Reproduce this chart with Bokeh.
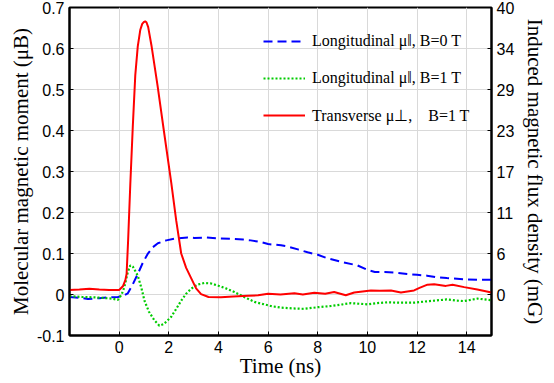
from bokeh.plotting import figure
from bokeh.models import (Range1d, LinearAxis, FixedTicker, Legend, LegendItem)
from bokeh.embed import file_html
from bokeh.resources import INLINE

# ---------------- data ----------------
red_t = [-2, -1.6, -1.2, -0.8, -0.4, 0, 0.15, 0.25, 0.3, 0.36, 0.45, 0.55, 0.65,
         0.75, 0.85, 0.93, 1.0, 1.05, 1.1, 1.17, 1.3, 1.55, 1.8, 2.1, 2.3, 2.5,
         2.7, 2.9, 3.1, 3.3, 3.6, 4.1, 4.6, 5.2, 5.6, 6.0, 6.5, 7.06, 7.4, 7.86,
         8.3, 8.66, 9.13, 9.47, 10.14, 10.5, 10.95, 11.35, 11.88, 12.1, 12.42,
         12.69, 13.16, 13.43, 13.9, 14.43, 15.0]
red_v = [0.011, 0.012, 0.014, 0.012, 0.011, 0.011, 0.02, 0.035, 0.05, 0.13, 0.27,
         0.41, 0.535, 0.605, 0.645, 0.66, 0.665, 0.666, 0.664, 0.652, 0.608,
         0.508, 0.40, 0.272, 0.18, 0.10, 0.065, 0.04, 0.015, 0.001, -0.006,
         -0.007, -0.005, -0.003, -0.002, 0.002, 0.0, 0.003, 0.0, 0.004, 0.002,
         0.006, -0.002, 0.005, 0.01, 0.009, 0.01, 0.005, 0.01, 0.016, 0.024,
         0.025, 0.021, 0.024, 0.018, 0.012, 0.005]

blue_t = [-2, -1.6, -1.26, -0.8, -0.4, -0.05, 0.2, 0.35, 0.55, 0.75, 0.95, 1.15,
          1.35, 1.56, 1.9, 2.23, 2.76, 3.03, 3.5, 3.97, 4.5, 5.0, 5.3, 5.71, 6.0,
          6.52, 6.79, 7.2, 7.59, 8.0, 8.4, 9.0, 9.6, 10.0, 10.3, 10.7, 11.2, 11.6,
          12.0, 12.4, 12.8, 13.2, 13.9, 14.5, 15.0]
blue_v = [-0.006, -0.008, -0.011, -0.009, -0.007, -0.006, -0.002, 0.003, 0.025,
          0.05, 0.077, 0.099, 0.115, 0.125, 0.132, 0.136, 0.139, 0.138, 0.139,
          0.137, 0.136, 0.134, 0.132, 0.128, 0.123, 0.12, 0.117, 0.11, 0.103,
          0.097, 0.088, 0.079, 0.071, 0.06, 0.055, 0.055, 0.053, 0.05, 0.048,
          0.046, 0.042, 0.04, 0.037, 0.036, 0.036]

green_t = [-2, -1.5, -1.0, -0.72, -0.3, -0.05, 0.1, 0.21, 0.35, 0.45, 0.55, 0.75,
           0.9, 1.02, 1.2, 1.42, 1.62, 1.8, 2.09, 2.3, 2.5, 2.7, 2.9, 3.15, 3.43,
           3.7, 3.97, 4.3, 4.64, 5.0, 5.45, 5.71, 6.1, 6.52, 7.0, 7.46, 8.0, 8.54,
           9.0, 9.34, 10.0, 10.4, 10.81, 11.3, 11.88, 12.5, 13.2, 13.6, 13.9,
           14.43, 15.0]
green_v = [-0.004, -0.006, -0.007, -0.008, -0.01, -0.013, 0.0, 0.018, 0.055, 0.071,
           0.068, 0.046, 0.015, -0.015, -0.042, -0.063, -0.076, -0.072, -0.055,
           -0.035, -0.015, 0.002, 0.014, 0.024, 0.028, 0.027, 0.022, 0.015, 0.006,
           -0.005, -0.018, -0.022, -0.028, -0.032, -0.034, -0.035, -0.031, -0.028,
           -0.024, -0.021, -0.024, -0.021, -0.019, -0.02, -0.02, -0.016, -0.012,
           -0.015, -0.016, -0.01, -0.014]

x_ticks = [0, 2, 4, 6, 8, 10, 12, 14]
y_ticks = [-0.1, 0, 0.1, 0.2, 0.3, 0.4, 0.5, 0.6, 0.7]
y_tick_labels = ["-0.1", "0", "0.1", "0.2", "0.3", "0.4", "0.5", "0.6", "0.7"]
r_max = 40.0
r_ticks = [k * r_max / 7 for k in range(8)]
r_tick_labels = ["0", "6", "11", "17", "23", "29", "34", "40"]

labels = ["Longitudinal \u03bc\u2016, B=0 T",
          "Longitudinal \u03bc\u2016, B=1 T",
          "Transverse \u03bc\u22a5,\u00a0\u00a0\u00a0\u00a0B=1 T"]

# ---------------- figure ----------------
SANS = "'Liberation Sans', Arial, sans-serif"
SERIF = "'Liberation Serif', 'Times New Roman', serif"

p = figure(width=554, height=383, x_range=Range1d(-2, 15), y_range=Range1d(-0.1, 0.7),
           output_backend="svg", toolbar_location=None,
           min_border_left=69, min_border_right=63, min_border_top=7,
           min_border_bottom=48)
p.background_fill_color = "white"
p.border_fill_color = "white"
p.outline_line_color = "black"
p.outline_line_width = 2

p.extra_y_ranges = {"mg": Range1d(-0.1 * r_max / 0.7, r_max)}

def style_axis(ax):
    ax.axis_line_color = "black"
    ax.axis_line_width = 2
    ax.major_tick_in = 4
    ax.major_tick_out = 0
    ax.minor_tick_line_color = None
    ax.major_tick_line_color = "black"
    ax.major_label_text_font = SANS
    ax.major_label_text_font_size = "16px"
    ax.major_label_text_color = "black"
    ax.axis_label_text_font = SERIF
    ax.axis_label_text_font_size = "21px"
    ax.axis_label_text_font_style = "normal"
    ax.axis_label_text_color = "black"

xa = p.xaxis[0]
style_axis(xa)
xa.ticker = FixedTicker(ticks=x_ticks)
xa.axis_label = "Time (ns)"
xa.major_label_standoff = 5
xa.axis_label_standoff = -2

ya = p.yaxis[0]
style_axis(ya)
ya.ticker = FixedTicker(ticks=y_ticks)
ya.major_label_overrides = dict(zip(y_ticks, y_tick_labels))
ya.axis_label = "Molecular magnetic moment (\u03bcB)"
ya.major_label_standoff = 5
ya.axis_label_standoff = 1

ra = LinearAxis(y_range_name="mg", ticker=FixedTicker(ticks=r_ticks),
                axis_label="Induced magnetic flux density (mG)")
style_axis(ra)
ra.major_label_overrides = dict(zip(r_ticks, r_tick_labels))
ra.major_label_standoff = 5
ra.axis_label_standoff = 6
p.add_layout(ra, "right")

p.xgrid.ticker = FixedTicker(ticks=x_ticks)
p.ygrid.ticker = FixedTicker(ticks=y_ticks)
for g in (p.xgrid[0], p.ygrid[0]):
    g.grid_line_color = "#d9d9d9"
    g.grid_line_width = 1

# ---------------- curves ----------------
r_blue = p.line(blue_t, blue_v, line_color="#0000ff", line_width=2, line_dash="9 5")
r_green = p.line(green_t, green_v, line_color="#00cc00", line_width=2.2, line_dash="2 2")
r_red = p.line(red_t, red_v, line_color="#ff0000", line_width=2)

legend = Legend(items=[LegendItem(label=labels[0], renderers=[r_blue]),
                       LegendItem(label=labels[1], renderers=[r_green]),
                       LegendItem(label=labels[2], renderers=[r_red])],
                location=(194, 210))
legend.background_fill_alpha = 0
legend.border_line_alpha = 0
legend.padding = 0
legend.margin = 0
legend.spacing = 17
legend.glyph_width = 42
legend.glyph_height = 20
legend.label_height = 20
legend.label_standoff = 7
legend.label_text_font = SERIF
legend.label_text_font_size = "16px"
legend.label_text_color = "black"
p.add_layout(legend, "center")

open("out.html", "w").write(file_html(p, INLINE))
